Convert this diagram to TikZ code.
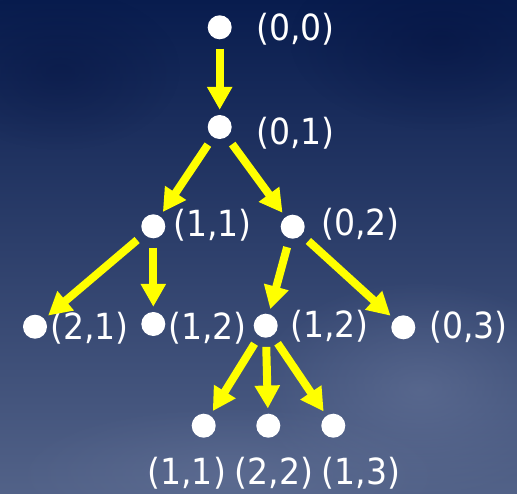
\documentclass[tikz,border=0pt]{standalone}
\usepackage{fontspec}
\setmainfont{DejaVu Sans}[FakeStretch=0.92]
\usetikzlibrary{arrows.meta,fadings}
\definecolor{NavyTop} {RGB}{8,  28,  78}
\definecolor{NavyMid} {RGB}{24, 48,  98}
\definecolor{SlateBot}{RGB}{82, 98, 136}
\definecolor{HazeL}   {RGB}{112,126,162}
\definecolor{NavyD}   {RGB}{4,  18,  64}
\definecolor{ArrowY}  {RGB}{255,255,  0}
\tikzfading[name=softblob,inner color=transparent!0,outer color=transparent!100]

\begin{document}
\begin{tikzpicture}[x=1pt,y=-1pt,
    vtx/.style={circle,fill=white,inner sep=0pt,minimum size=24pt},
    lbl/.style={anchor=base west,text=white,inner sep=0pt,font=\fontsize{36}{42}\selectfont},
    arr/.style={-{Triangle[length=23pt,width=24pt]},ArrowY,line width=8pt,
                shorten <=9pt,shorten >=5pt}]
        \useasboundingbox (0,0) rectangle (517,493);
        \shade[top color=NavyTop,middle color=NavyMid,bottom color=SlateBot] (0,0) rectangle (517,493);
        \fill[HazeL,opacity=0.45,path fading=softblob] (420,390) ellipse (170 and 110);
        \fill[HazeL,opacity=0.35,path fading=softblob] (230,475) ellipse (220 and 70);
        \fill[NavyD,opacity=0.5,path fading=softblob] (440,40) ellipse (150 and 90);
        \fill[NavyD,opacity=0.4,path fading=softblob] (60,70) ellipse (120 and 80);
        \foreach \n/\x/\y in {d00/219.7/27.3, d01/219.7/127, d11/153.3/226.3, d02/292.7/226.7,
                              d21/35/326.7, d12a/153.3/324, d12b/265.7/325.7, d03/403.3/327.3,
                              d11b/203.7/425.7, d22/268.3/425.7, d13/333.3/425.7}{
          \node[vtx] (\n) at (\x,\y) {};}
        \foreach \n/\x/\y/\t in {l00/256/40/{(0,0)}, l01/256/144/{(0,1)}, l11/173/236/{(1,1)},
                                 l02/321/235/{(0,2)}, l21/50/339/{(2,1)}, l12a/168/339/{(1,2)},
                                 l12b/290/337/{(1,2)}, l03/429/338/{(0,3)}}{
          \node[lbl] (\n) at (\x,\y) {\t};}
        \node[lbl,anchor=base] (l11b) at (186.7,484.5) {(1,1)};
        \node[lbl,anchor=base] (l22) at (274,484.5) {(2,2)};
        \node[lbl,anchor=base] (l13) at (361,484.5) {(1,3)};
        \foreach \a/\b in {d00/d01, d01/d11, d01/d02, d11/d21, d11/d12a,
                           d02/d12b, d02/d03, d12b/d11b, d12b/d22, d12b/d13}{
          \draw[arr] (\a) -- (\b);}
      \end{tikzpicture}
\end{document}
